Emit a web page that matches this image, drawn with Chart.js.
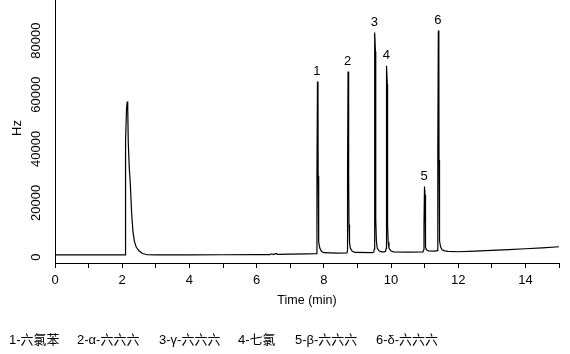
<!DOCTYPE html>
<html>
<head>
<meta charset="utf-8">
<script src="https://cdn.jsdelivr.net/npm/chart.js@4.4.0/dist/chart.umd.min.js"></script>
<style>
  html, body { margin: 0; padding: 0; background: #fff; }
  #wrap { position: relative; width: 570px; height: 354px; }
  canvas { position: absolute; left: 0; top: 0; }
  .lg { position: absolute; top: 332px; font: 13px "Liberation Sans", Arial, "Noto Sans CJK SC", sans-serif; color: #000; line-height: 15px; white-space: nowrap; }
</style>
</head>
<body>
<div id="wrap">
  <canvas id="c" width="570" height="354"></canvas>
</div>
<script>
// ---- data ----
const times = [
  0.00, 1.00, 2.00, 2.09, 2.10, 2.13, 2.15, 2.165, 2.18, 2.21, 2.24, 2.28, 2.32, 2.36, 2.42, 2.50, 2.60, 2.75,
  3.0, 4.0, 5.0, 6.0, 6.40, 6.45, 6.50, 6.58, 6.62, 7.00, 7.50,
  7.78, 7.795, 7.797, 7.812, 7.827, 7.832, 7.84, 7.855, 7.88, 7.93, 8.00, 8.40,
  8.69, 8.705, 8.707, 8.722, 8.737, 8.742, 8.75, 8.765, 8.79, 8.84, 8.92, 9.45,
  9.49, 9.505, 9.507, 9.522, 9.537, 9.542, 9.55, 9.565, 9.59, 9.64, 9.72, 9.80,
  9.84, 9.857, 9.859, 9.874, 9.889, 9.894, 9.902, 9.917, 9.94, 9.99, 10.07, 10.50,
  10.95, 10.98, 10.982, 10.997, 11.012, 11.017, 11.025, 11.04, 11.065, 11.11, 11.30,
  11.37, 11.392, 11.394, 11.409, 11.424, 11.429, 11.437, 11.452, 11.475, 11.52, 11.60, 11.70,
  12.0, 12.5, 13.0, 13.5, 14.0, 14.5, 15.0
];
const hz = [
  800, 800, 800, 800, 43000, 55000, 57500, 55000, 42700, 33000, 27400, 16400, 9500, 6000, 3600, 2300, 1300, 850,
  800, 800, 850, 900, 900, 1200, 900, 1300, 1000, 1100, 1200,
  1250, 2500, 30000, 64860, 60000, 30000, 12000, 5500, 3300, 2100, 1600, 1450,
  1500, 2600, 32000, 68550, 62000, 30000, 12000, 5500, 3300, 2200, 1700, 1600,
  1900, 3000, 40000, 82950, 76000, 36000, 14000, 6000, 3300, 2300, 1900, 1900,
  2200, 3200, 36000, 70660, 64000, 30000, 12000, 5500, 3300, 2300, 1900, 1800,
  1900, 2800, 12000, 26080, 23000, 12000, 6000, 3500, 2600, 2300, 2200,
  2400, 3500, 40000, 83690, 76000, 36000, 14000, 6000, 3800, 2700, 2300, 2100,
  1960, 2200, 2440, 2750, 3070, 3400, 3800
];
const peakNames = ['1', '2', '3', '4', '5', '6'];
const peakTimes = [7.812, 8.722, 9.522, 9.874, 10.997, 11.409];
const peakHeights = [64860, 68550, 82950, 70660, 26080, 83690];
const yTickLabels = [0, 20000, 40000, 60000, 80000];
const xTickLabels = [0, 2, 4, 6, 8, 10, 12, 14];
const legendItems = ['1-六氯苯', '2-α-六六六', '3-γ-六六六', '4-七氯', '5-β-六六六', '6-δ-六六六'];
const legendLeft = [9, 77, 159, 238, 295, 376];

// ---- legend text below the plot ----
const wrap = document.getElementById('wrap');
legendItems.forEach((t, i) => {
  const d = document.createElement('div');
  d.className = 'lg';
  d.style.left = legendLeft[i] + 'px';
  d.textContent = t;
  wrap.appendChild(d);
});

const FONT = '"Liberation Sans", Arial, sans-serif';

const overlay = {
  id: 'overlay',
  afterDraw(chart) {
    const ctx = chart.ctx;
    const xs = chart.scales.x, ys = chart.scales.y;
    ctx.save();
    ctx.fillStyle = '#000';
    ctx.font = '13px ' + FONT;
    ctx.textAlign = 'center';
    ctx.textBaseline = 'middle';
    // peak numbers
    peakNames.forEach((n, i) => {
      const px = xs.getPixelForValue(peakTimes[i]) - 0.5;
      const py = ys.getPixelForValue(peakHeights[i]) - 10.5;
      ctx.fillText(n, px, py);
    });
    // rotated y tick labels
    yTickLabels.forEach(v => {
      const py = ys.getPixelForValue(v);
      ctx.save();
      ctx.translate(36, py);
      ctx.rotate(-Math.PI / 2);
      ctx.fillText(String(v), 0, 0);
      ctx.restore();
    });
    // y title
    ctx.save();
    ctx.translate(17, 128);
    ctx.rotate(-Math.PI / 2);
    ctx.fillText('Hz', 0, 0);
    ctx.restore();
    ctx.restore();
  }
};

new Chart(document.getElementById('c'), {
  type: 'line',
  data: {
    datasets: [{
      data: times.map((t, i) => ({ x: t, y: hz[i] })),
      borderColor: '#000',
      borderWidth: 1.2,
      pointRadius: 0,
      tension: 0,
      fill: false
    }]
  },
  options: {
    responsive: false,
    animation: false,
    devicePixelRatio: 1,
    layout: { padding: { left: 0, right: 11, top: 0, bottom: 46 } },
    plugins: { legend: { display: false }, tooltip: { enabled: false } },
    scales: {
      x: {
        type: 'linear',
        min: 0, max: 15,
        ticks: {
          stepSize: 1,
          autoSkip: false,
          maxRotation: 0,
          padding: 5,
          color: '#000',
          font: { size: 13, family: FONT },
          callback: v => (xTickLabels.includes(v) ? String(v) : '')
        },
        grid: { drawOnChartArea: false, drawTicks: true, tickLength: 5, color: '#000', lineWidth: 1 },
        border: { display: true, color: '#000', width: 1 },
        title: { display: true, text: 'Time (min)', color: '#000', font: { size: 12.5, family: FONT }, padding: { top: 0, bottom: 0 } },
        afterFit: s => { s.height = 45; }
      },
      y: {
        type: 'linear',
        min: -2200, max: 95000,
        ticks: { display: false, stepSize: 10000 },
        afterBuildTicks: s => { s.ticks = s.ticks.filter(t => t.value >= 0 && t.value <= 90000 && t.value % 10000 === 0); },
        grid: { drawOnChartArea: false, drawTicks: true, tickLength: 5, color: '#000', lineWidth: 1 },
        border: { display: true, color: '#000', width: 1 },
        afterFit: s => { s.width = 55; }
      }
    }
  },
  plugins: [overlay]
});
</script>
</body>
</html>
